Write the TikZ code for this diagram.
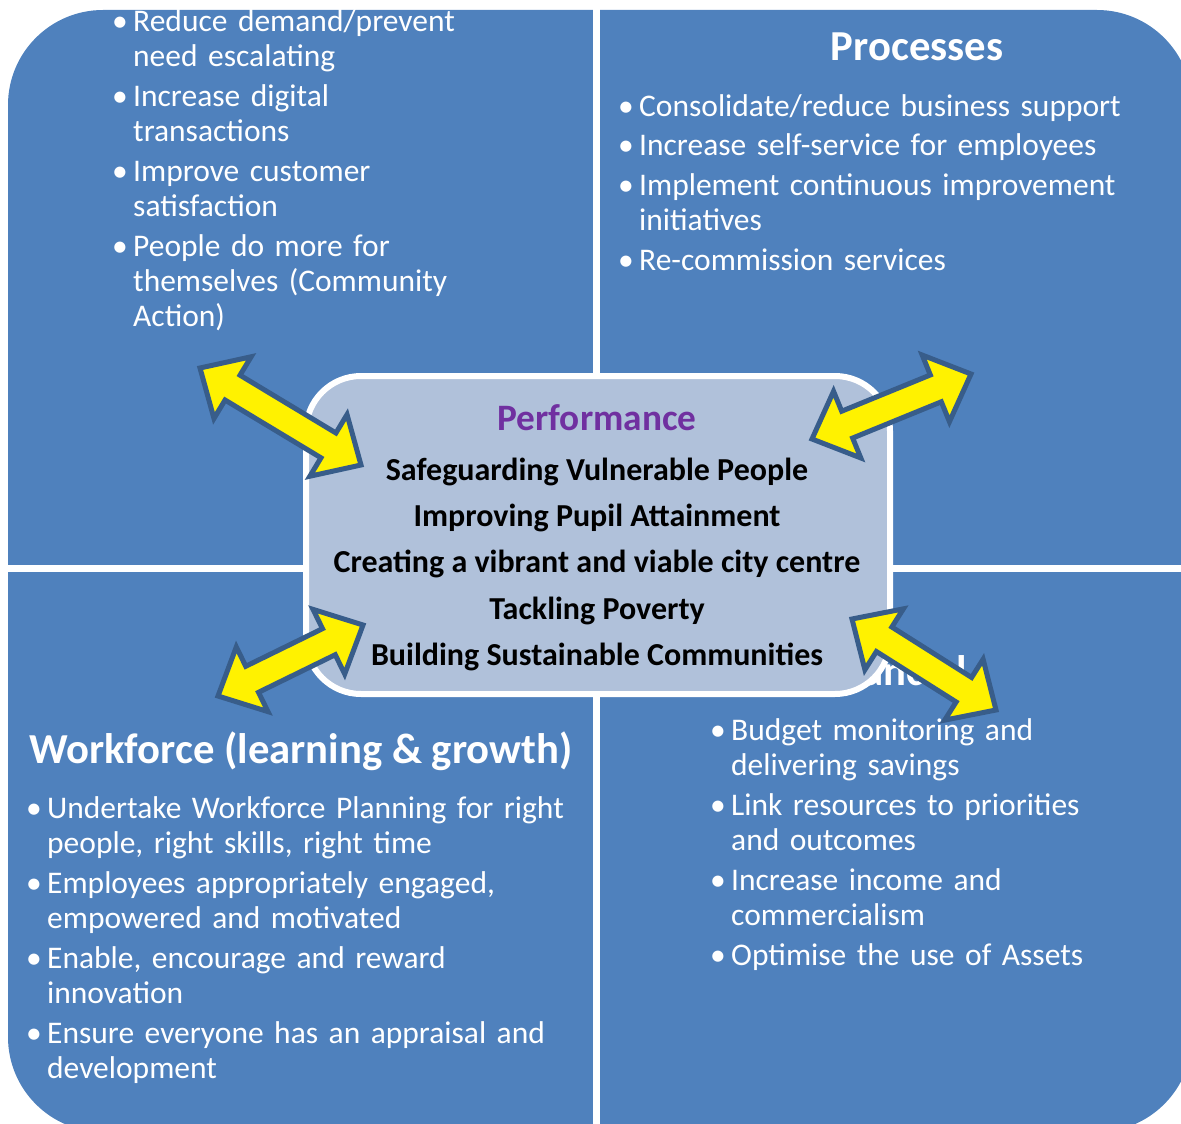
\documentclass[tikz,border=0pt]{standalone}
\usepackage{fontspec}
\setmainfont{Carlito}
\usetikzlibrary{calc}

\definecolor{quadblue}{HTML}{4F81BD}
\definecolor{centrefill}{HTML}{B0C1DA}
\definecolor{arrowline}{HTML}{385D8A}
\definecolor{perfpurple}{HTML}{7030A0}

\newcommand{\itm}[1]{\par\noindent\hangindent=21pt\hangafter=1\makebox[21pt][l]{\textbullet}#1\par}

\newcommand{\blockarrow}[2]{%
  \coordinate (hA) at ($(#1)!38pt!(#2)$);
  \coordinate (hB) at ($(#2)!38pt!(#1)$);
  \draw[bigarrow] (#1) -- ($(hA)!36pt!90:(#2)$) -- ($(hA)!14.5pt!90:(#2)$)
    -- ($(hB)!14.5pt!-90:(#1)$) -- ($(hB)!36pt!-90:(#1)$) -- (#2)
    -- ($(hB)!36pt!90:(#1)$) -- ($(hB)!14.5pt!90:(#1)$)
    -- ($(hA)!14.5pt!-90:(#2)$) -- ($(hA)!36pt!-90:(#2)$) -- cycle;
}

\tikzset{
  listtext/.style={text=white, font=\fontsize{31.5}{35}\selectfont\setlength{\parskip}{5pt},
    text width=600pt, align=left, inner sep=0pt, anchor=base west},
  quadtitle/.style={text=white, font=\fontsize{42.7}{46}\selectfont\bfseries, inner sep=0pt, anchor=base},
  goal/.style={font=\fontsize{32}{38}\selectfont\bfseries, inner sep=0pt, anchor=base},
  bigarrow/.style={fill=yellow, draw=arrowline, line width=5pt, line join=miter},
}

\begin{document}
\begin{tikzpicture}[x=1pt,y=-1pt]
  \useasboundingbox (0,0) rectangle (1181,1124);

  \begin{scope}
    \clip (0,0) rectangle (1181,1124);
    \fill[quadblue, rounded corners=95pt] (8,10) rectangle (1192,1132);
    \fill[white] (593,0) rectangle (600,1124);
    \fill[white] (0,565) rectangle (1181,572);
  \end{scope}

  \node[listtext] (customers) at (112,-8) {%
    \itm{Reduce demand/prevent\newline need escalating}
    \itm{Increase digital\newline transactions}
    \itm{Improve customer\newline satisfaction}
    \itm{People do more for\newline themselves (Community\newline Action)}};

  \node[quadtitle] (processes) at (917,61) {Processes};
  \node[listtext] (proclist) at (618,76) {%
    \itm{Consolidate/reduce business support}
    \itm{Increase self-service for employees}
    \itm{Implement continuous improvement\newline initiatives}
    \itm{Re-commission services}};

  \node[quadtitle] (workforce) at (301,763) {Workforce (learning \& growth)};
  \node[listtext] (worklist) at (26,778) {%
    \itm{Undertake Workforce Planning for right\newline people, right skills, right time}
    \itm{Employees appropriately engaged,\newline empowered and motivated}
    \itm{Enable, encourage and reward\newline innovation}
    \itm{Ensure everyone has an appraisal and\newline development}};

  \node[quadtitle] (financial) at (888,685) {Financial};
  \node[listtext] (finlist) at (710,700) {%
    \itm{Budget monitoring and\newline delivering savings}
    \itm{Link resources to priorities\newline and outcomes}
    \itm{Increase income and\newline commercialism}
    \itm{Optimise the use of Assets}};

  \draw[white, fill=centrefill, line width=6pt, rounded corners=55pt] (306,376) rectangle (890,694);

  \node[goal, text=perfpurple, font=\fontsize{37.3}{40}\selectfont\bfseries] (performance) at (597,430) {Performance};
  \node[goal] (safeguard) at (597,480) {Safeguarding Vulnerable People};
  \node[goal] (pupil) at (597,526) {Improving Pupil Attainment};
  \node[goal] (city) at (597,572) {Creating a vibrant and viable city centre};
  \node[goal] (poverty) at (597,619) {Tackling Poverty};
  \node[goal] (communities) at (597,665) {Building Sustainable Communities};

  \coordinate (tlout) at (200,368);
  \coordinate (tlin) at (361,465);
  \coordinate (trin) at (812,439);
  \coordinate (trout) at (971,374);
  \coordinate (blout) at (218,696);
  \coordinate (blin) at (363,625);
  \coordinate (brin) at (852,619);
  \coordinate (brout) at (996,710);

  \blockarrow{tlout}{tlin}
  \blockarrow{trin}{trout}
  \blockarrow{blout}{blin}
  \blockarrow{brin}{brout}
\end{tikzpicture}
\end{document}
